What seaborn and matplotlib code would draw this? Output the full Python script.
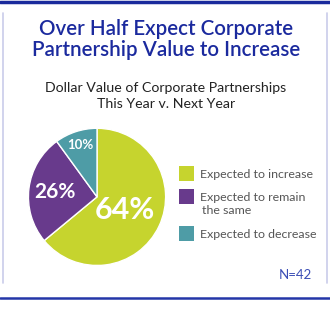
import numpy as np
import matplotlib
matplotlib.use("Agg")
import matplotlib.pyplot as plt
import seaborn as sns
from matplotlib.lines import Line2D
from matplotlib.patches import Rectangle

sns.set_theme(style="white")
plt.rcParams['font.family'] = ['Lato', 'DejaVu Sans']

categories = ["Expected to increase", "Expected to remain\nthe same", "Expected to decrease"]
values = [64, 26, 10]
pct_labels = ["64%", "26%", "10%"]
colors = ["#C6D42E", "#683A8C", "#4E9CA6"]
title_lines = "Over Half Expect Corporate\nPartnership Value to Increase"
subtitle = "Dollar Value of Corporate Partnerships\nThis Year v. Next Year"
note = "N=42"

W, H = 330, 332
fig = plt.figure(figsize=(W / 100, H / 100), dpi=100)
fig.patch.set_facecolor("white")

def fx(px):
    return px / W

def fy(py):
    return 1 - py / H

# frame decorations
fig.add_artist(Line2D([0, 1], [fy(1.5), fy(1.5)], color="#1A2A9C", lw=2.5))
fig.add_artist(Line2D([fx(3), fx(3)], [fy(13), fy(283)], color="#C9CCEA", lw=1.2))
fig.add_artist(Line2D([fx(327), fx(327)], [fy(13), fy(283)], color="#C9CCEA", lw=1.2))
fig.add_artist(Line2D([0, 1], [fy(298), fy(298)], color="#2436A8", lw=1.8))

fig.text(0.503, fy(39.5), title_lines, ha="center", va="center", fontsize=14.8,
         color="#1B2A9E", fontweight="semibold", linespacing=1.05)
fig.text(0.503, fy(96), subtitle, ha="center", va="center", fontsize=10.2,
         color="#222222", linespacing=1.45)

ax = fig.add_axes([0.082, 0.196, 0.424, 0.422])
wedges, _ = ax.pie(values, colors=colors, startangle=90, counterclock=False,
                   wedgeprops=dict(edgecolor="white", linewidth=1.0))
ax.set_xlim(-1.02, 1.02)
ax.set_ylim(-1.02, 1.02)
ax.set_aspect("equal")
ax.axis("off")

label_r = [0.45, 0.62, 0.8]
label_fs = [22, 15, 9.5]
for w, txt, r, fs in zip(wedges, pct_labels, label_r, label_fs):
    ang = np.deg2rad((w.theta1 + w.theta2) / 2)
    ax.text(r * np.cos(ang), r * np.sin(ang), txt, ha="center", va="center",
            color="white", fontsize=fs, fontweight="bold")

# legend
key_centers = [173.5, 196.5, 233.5]
for c, lab, yc in zip(colors, categories, key_centers):
    fig.add_artist(Rectangle((fx(179), fy(yc + 7.5)), 15 / W, 15 / H,
                             transform=fig.transFigure, facecolor=c, edgecolor="none"))
    for i, line in enumerate(lab.split("\n")):
        fig.text(fx(200 + 2 * i), fy(yc + 4.7 + 13 * i), line, ha="left",
                 va="baseline", fontsize=8.9, color="#555555")

fig.text(fx(295), fy(275), note, ha="center", va="center", fontsize=9.5,
         color="#3A4DB5")

fig.savefig("out.png", dpi=100)
